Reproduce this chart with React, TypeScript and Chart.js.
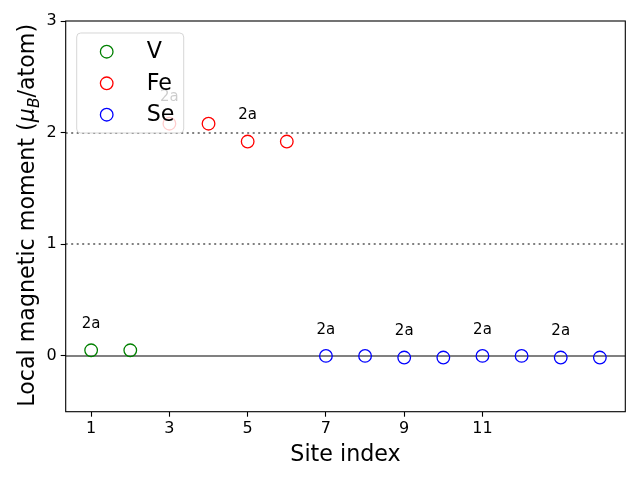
import { useEffect, useRef } from "react";
import { Chart, registerables } from "chart.js";

Chart.register(...registerables);

// ---- data ----
const siteV = [1, 2];
const momentV = [0.05, 0.05];
const siteFe = [3, 4, 5, 6];
const momentFe = [2.08, 2.08, 1.92, 1.92];
const siteSe = [7, 8, 9, 10, 11, 12, 13, 14];
const momentSe = [0, 0, -0.015, -0.015, 0, 0, -0.015, -0.015];
const seriesNames = ["V", "Fe", "Se"];
const seriesColors = ["#008000", "#ff0000", "#0000ff"];
const labelSites = [1, 3, 5, 7, 9, 11, 13];
const labelText = "2a";
const labelOffset = 0.2;
const xTicks = [1, 3, 5, 7, 9, 11];
const yTicks = [0, 1, 2, 3];
const solidLines = [0];
const dottedLines = [1, 2];
const xTitle = "Site index";

const FONT = "'DejaVu Sans', 'Liberation Sans', sans-serif";

const toPts = (xs: number[], ys: number[]) => xs.map((x, i) => ({ x, y: ys[i] }));

export default function App() {
  const ref = useRef<HTMLCanvasElement | null>(null);

  useEffect(() => {
    document.body.style.margin = "0";
    const canvas = ref.current;
    if (!canvas) return;

    const allSites = [...siteV, ...siteFe, ...siteSe];
    const allMoments = [...momentV, ...momentFe, ...momentSe];

    const custom = {
      id: "custom",
      beforeDatasetsDraw(chart: any) {
        const { ctx, chartArea, scales } = chart;
        const { left, right, top, bottom } = chartArea;
        const y = scales.y;
        ctx.save();
        ctx.beginPath();
        ctx.rect(left, top, right - left, bottom - top);
        ctx.clip();
        ctx.strokeStyle = "#808080";
        solidLines.forEach((v) => {
          const py = Math.round(y.getPixelForValue(v));
          ctx.lineWidth = 2;
          ctx.setLineDash([]);
          ctx.beginPath();
          ctx.moveTo(left, py);
          ctx.lineTo(right, py);
          ctx.stroke();
        });
        dottedLines.forEach((v) => {
          const py = Math.round(y.getPixelForValue(v));
          ctx.lineWidth = 2;
          ctx.setLineDash([2, 3.5]);
          ctx.beginPath();
          ctx.moveTo(left, py);
          ctx.lineTo(right, py);
          ctx.stroke();
        });
        ctx.restore();
      },
      afterDatasetsDraw(chart: any) {
        const { ctx, scales } = chart;
        const x = scales.x;
        const y = scales.y;
        ctx.save();
        ctx.fillStyle = "#000";
        ctx.font = `15px ${FONT}`;
        ctx.textAlign = "center";
        ctx.textBaseline = "alphabetic";
        labelSites.forEach((s) => {
          const idx = allSites.indexOf(s);
          const m = allMoments[idx];
          ctx.fillText(labelText, x.getPixelForValue(s), y.getPixelForValue(m + labelOffset));
        });
        ctx.restore();
      },
      afterDraw(chart: any) {
        const { ctx, chartArea } = chart;
        const { left, right, top, bottom } = chartArea;
        ctx.save();
        // frame
        ctx.strokeStyle = "#000";
        ctx.lineWidth = 1.1;
        ctx.setLineDash([]);
        ctx.strokeRect(left, top, right - left, bottom - top);

        // x title
        ctx.fillStyle = "#000";
        ctx.font = `22.2px ${FONT}`;
        ctx.textAlign = "center";
        ctx.textBaseline = "alphabetic";
        ctx.fillText(xTitle, (left + right) / 2, 461);

        // y title with mathtext
        ctx.save();
        const cx = 34;
        const cy = (top + bottom) / 2 - 1;
        ctx.translate(cx, cy);
        ctx.rotate(-Math.PI / 2);
        const normal = `22.2px ${FONT}`;
        const ital = `italic 22.2px ${FONT}`;
        const subf = `italic 15.5px ${FONT}`;
        const parts = [
          { t: "Local magnetic moment (", f: normal, dy: 0 },
          { t: "\u03bc", f: ital, dy: 0 },
          { t: "B", f: subf, dy: 4.5 },
          { t: "/atom)", f: normal, dy: 0 },
        ];
        let total = 0;
        const widths = parts.map((p) => {
          ctx.font = p.f;
          const w = ctx.measureText(p.t).width;
          total += w;
          return w;
        });
        let px = -total / 2;
        ctx.textAlign = "left";
        parts.forEach((p, i) => {
          ctx.font = p.f;
          ctx.fillText(p.t, px, p.dy);
          px += widths[i];
        });
        ctx.restore();

        // legend
        const lx = left + 11;
        const ly = top + 12;
        const lw = 107;
        const lh = 100;
        ctx.beginPath();
        (ctx as any).roundRect(lx, ly, lw, lh, 4);
        ctx.fillStyle = "rgba(255,255,255,0.8)";
        ctx.fill();
        ctx.strokeStyle = "rgba(204,204,204,0.8)";
        ctx.lineWidth = 1;
        ctx.stroke();
        const rowY = [ly + 18.7, ly + 50.3, ly + 81.7];
        seriesNames.forEach((n, i) => {
          ctx.beginPath();
          ctx.arc(lx + 30, rowY[i], 6.3, 0, Math.PI * 2);
          ctx.strokeStyle = seriesColors[i];
          ctx.lineWidth = 1.3;
          ctx.stroke();
          ctx.fillStyle = "#000";
          ctx.font = `22.2px ${FONT}`;
          ctx.textAlign = "left";
          ctx.textBaseline = "middle";
          ctx.fillText(n, lx + 70, rowY[i] + 1);
        });
        ctx.restore();
      },
    };

    const mk = (i: number, xs: number[], ys: number[]) => ({
      label: seriesNames[i],
      data: toPts(xs, ys),
      showLine: false,
      pointStyle: "circle",
      pointRadius: 6.3,
      pointHoverRadius: 6.3,
      borderWidth: 1.3,
      borderColor: seriesColors[i],
      backgroundColor: "rgba(0,0,0,0)",
    });

    const chart = new Chart(canvas, {
      type: "scatter",
      data: {
        datasets: [mk(0, siteV, momentV), mk(1, siteFe, momentFe), mk(2, siteSe, momentSe)],
      },
      options: {
        animation: false,
        responsive: false,
        devicePixelRatio: 1,
        events: [],
        layout: { padding: { left: 0, right: 14.7, top: 21, bottom: 0 } },
        plugins: { legend: { display: false }, tooltip: { enabled: false } },
        scales: {
          x: {
            type: "linear",
            min: 0.35,
            max: 14.65,
            afterBuildTicks: (s: any) => {
              s.ticks = xTicks.map((v) => ({ value: v }));
            },
            afterFit: (s: any) => {
              s.height = 68.3;
            },
            border: { display: false },
            grid: {
              drawOnChartArea: false,
              drawTicks: true,
              tickLength: 5,
              tickWidth: 1.1,
              tickColor: "#000",
            },
            ticks: {
              color: "#000",
              font: { family: FONT, size: 16 },
              padding: 3,
              maxRotation: 0,
              autoSkip: false,
            },
          },
          y: {
            type: "linear",
            min: -0.5,
            max: 3,
            afterBuildTicks: (s: any) => {
              s.ticks = yTicks.map((v) => ({ value: v }));
            },
            afterFit: (s: any) => {
              s.width = 65.7;
            },
            border: { display: false },
            grid: {
              drawOnChartArea: false,
              drawTicks: true,
              tickLength: 5,
              tickWidth: 1.1,
              tickColor: "#000",
            },
            ticks: {
              color: "#000",
              font: { family: FONT, size: 16 },
              padding: 4,
              autoSkip: false,
            },
          },
        },
      },
      plugins: [custom],
    } as any);

    return () => chart.destroy();
  }, []);

  return <canvas ref={ref} width={640} height={480} style={{ display: "block" }} />;
}
